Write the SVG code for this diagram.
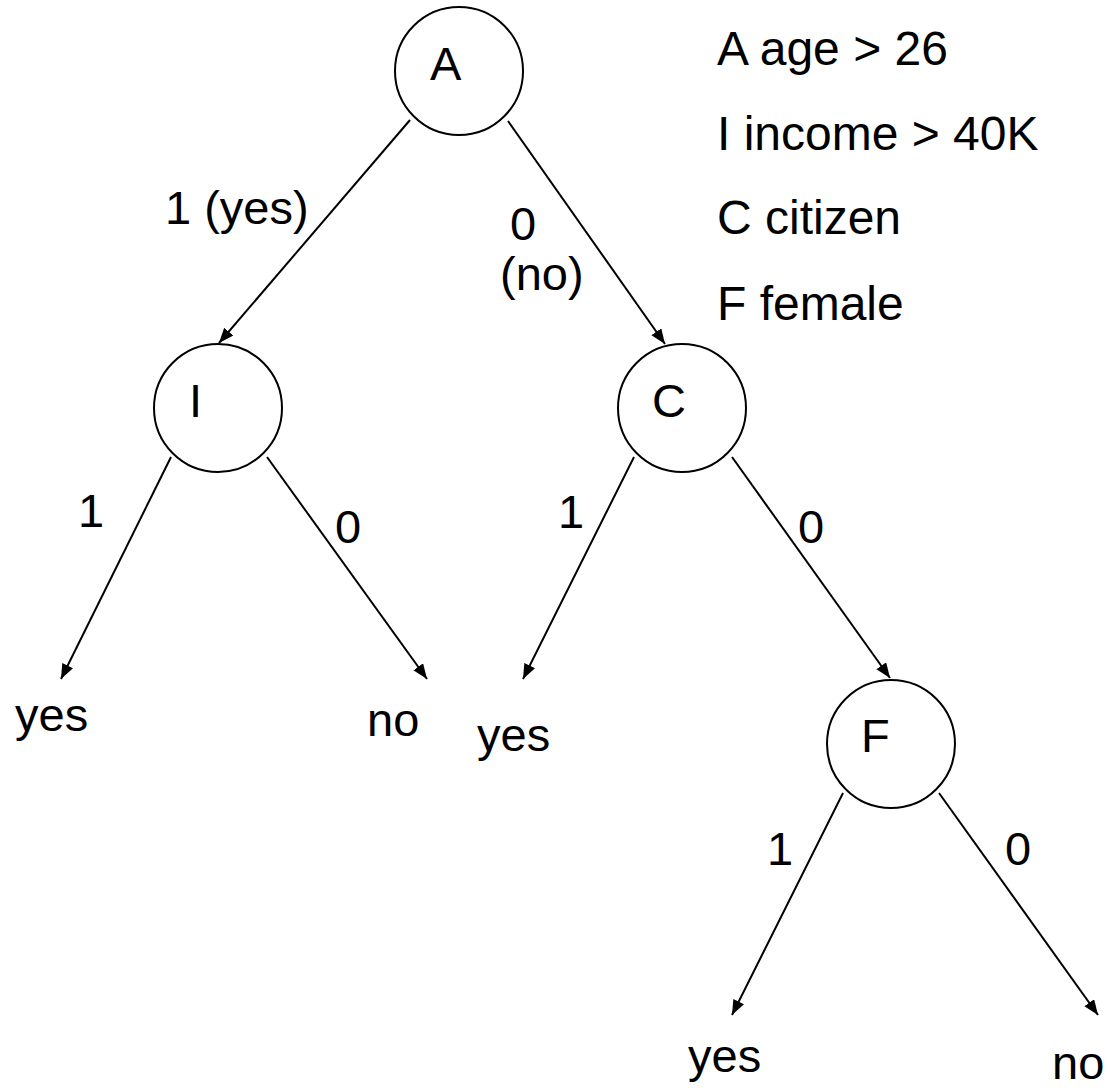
<svg xmlns="http://www.w3.org/2000/svg" width="1110" height="1090" viewBox="0 0 1110 1090">
  <style>
    text { font-family: "Liberation Sans", Arial, sans-serif; font-size: 47px; fill: #000; }
    #legend text { font-size: 48px; }
    .node circle { fill: #fff; stroke: #000; stroke-width: 2; }
    .edge { stroke: #000; stroke-width: 2; fill: none; marker-end: url(#arrow); }
  </style>
  <defs>
    <marker id="arrow" markerUnits="userSpaceOnUse" markerWidth="16" markerHeight="14" refX="15" refY="6" orient="auto">
      <path d="M0,0 L15,6 L0,12 z" fill="#000"/>
    </marker>
  </defs>
  <rect width="1110" height="1090" fill="#fff"/>

  <!-- decision nodes -->
  <g id="node-A" class="node">
    <circle cx="459" cy="71" r="64"/>
    <text x="430" y="80">A</text>
  </g>
  <g id="node-I" class="node">
    <circle cx="218" cy="408" r="64"/>
    <text x="189" y="417">I</text>
  </g>
  <g id="node-C" class="node">
    <circle cx="682" cy="408" r="64"/>
    <text x="652" y="417">C</text>
  </g>
  <g id="node-F" class="node">
    <circle cx="891" cy="744" r="64"/>
    <text x="861" y="752">F</text>
  </g>

  <!-- leaf outcomes -->
  <g id="leaf-I-yes"><text x="15" y="731">yes</text></g>
  <g id="leaf-I-no"><text x="367" y="736">no</text></g>
  <g id="leaf-C-yes"><text x="477" y="751">yes</text></g>
  <g id="leaf-F-yes"><text x="688" y="1072">yes</text></g>
  <g id="leaf-F-no"><text x="1052" y="1079">no</text></g>

  <!-- branches -->
  <g id="connectors">
    <line class="edge" x1="410" y1="120" x2="219" y2="343"/>
    <line class="edge" x1="508" y1="121" x2="665" y2="344"/>
    <line class="edge" x1="171" y1="457" x2="61" y2="679"/>
    <line class="edge" x1="267" y1="457" x2="427" y2="679"/>
    <line class="edge" x1="634" y1="457" x2="523" y2="679"/>
    <line class="edge" x1="732" y1="457" x2="890" y2="678"/>
    <line class="edge" x1="843" y1="793" x2="732" y2="1015"/>
    <line class="edge" x1="939" y1="793" x2="1098" y2="1015"/>
  </g>

  <!-- branch labels -->
  <g id="edge-labels">
    <text x="165" y="224">1 (yes)</text>
    <text x="510" y="240">0</text>
    <text x="500" y="290">(no)</text>
    <text x="78" y="527">1</text>
    <text x="335" y="543">0</text>
    <text x="558" y="528">1</text>
    <text x="798" y="543">0</text>
    <text x="767" y="865">1</text>
    <text x="1005" y="865">0</text>
  </g>

  <!-- attribute key -->
  <g id="legend">
    <text x="717" y="65">A age &gt; 26</text>
    <text x="717" y="150">I income &gt; 40K</text>
    <text x="717" y="234">C citizen</text>
    <text x="717" y="320">F female</text>
  </g>
</svg>
